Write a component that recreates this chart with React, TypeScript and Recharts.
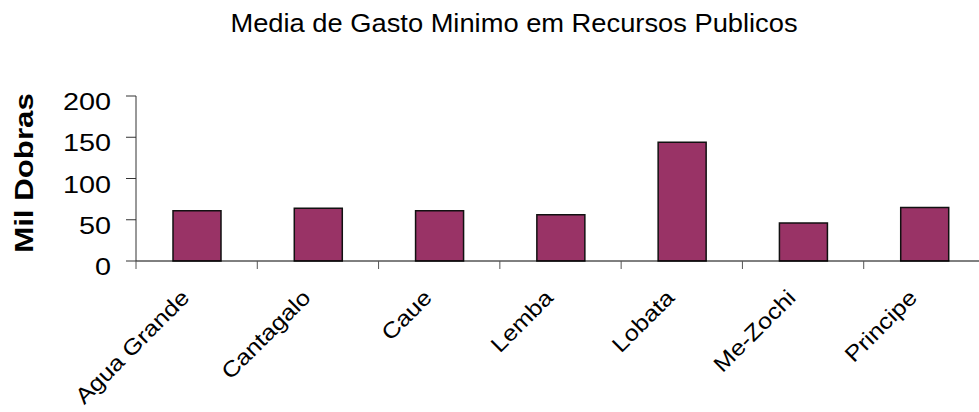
import { Bar, BarChart, XAxis, YAxis } from "recharts";

const districts = [
  "Agua Grande",
  "Cantagalo",
  "Caue",
  "Lemba",
  "Lobata",
  "Me-Zochi",
  "Principe",
];
const gastoMinimo = [61, 64, 61, 56, 144, 46, 65];
const yTicks = [0, 50, 100, 150, 200];
const xBounds = [0, 1, 2, 3, 4, 5, 6, 7];

const data = districts.map((name, i) => ({
  name,
  pos: i + 0.5,
  gasto: gastoMinimo[i],
}));

const FONT = "Arial, 'Liberation Sans', sans-serif";
const CHART_W = 990;
const PLOT_LEFT = 136;
const PLOT_RIGHT = 5;
const BAND = (CHART_W - PLOT_LEFT - PLOT_RIGHT) / districts.length;

const YTick = (props: any) => {
  const { x, y, payload } = props;
  return (
    <text
      transform={`translate(${x},${y + 14}) scale(1.2,1)`}
      textAnchor="end"
      fontSize={24}
      fontFamily={FONT}
      fill="#000"
    >
      {payload.value}
    </text>
  );
};

const XTick = (props: any) => {
  const { x, y, payload } = props;
  const label = districts[payload.value];
  if (!label) return <g />;
  const cx = x + BAND / 2 - 6;
  const cy = y + 28;
  return (
    <text
      transform={`translate(${cx},${cy}) rotate(-45) scale(1.15,1)`}
      textAnchor="end"
      fontSize={22}
      fontFamily={FONT}
      fill="#000"
    >
      {label}
    </text>
  );
};

const YTitle = () => (
  <text
    transform="translate(33,173) rotate(-90) scale(1.25,1)"
    textAnchor="middle"
    fontSize={25}
    fontWeight="bold"
    fontFamily={FONT}
    fill="#000"
  >
    Mil Dobras
  </text>
);

export default function App() {
  return (
    <div
      style={{
        position: "absolute",
        left: 0,
        top: 0,
        width: 979,
        height: 412,
        overflow: "hidden",
        background: "#fff",
      }}
    >
      <svg
        width={979}
        height={60}
        style={{ position: "absolute", left: 0, top: 0 }}
      >
        <text
          transform="translate(514,32) scale(1.05,1)"
          textAnchor="middle"
          fontSize={26}
          fontFamily={FONT}
          fill="#000"
        >
          Media de Gasto Minimo em Recursos Publicos
        </text>
      </svg>
      <BarChart
        width={CHART_W}
        height={412}
        data={data}
        margin={{ top: 96, right: PLOT_RIGHT, bottom: 0, left: 0 }}
        style={{ position: "absolute", left: 0, top: 0 }}
      >
        <XAxis
          dataKey="pos"
          type="number"
          domain={[0, 7]}
          ticks={xBounds}
          interval={0}
          height={151}
          tickSize={8}
          tick={<XTick />}
          axisLine={{ stroke: "#000", strokeWidth: 1 }}
          tickLine={{ stroke: "#555", strokeWidth: 1 }}
        />
        <YAxis
          type="number"
          domain={[0, 200]}
          ticks={yTicks}
          width={PLOT_LEFT}
          tickSize={10}
          tickMargin={15}
          tick={<YTick />}
          axisLine={{ stroke: "#333", strokeWidth: 1 }}
          tickLine={{ stroke: "#333", strokeWidth: 1 }}
          label={{ content: <YTitle /> }}
        />
        <Bar
          dataKey="gasto"
          barSize={48}
          fill="#993366"
          stroke="#111"
          strokeWidth={1.5}
          isAnimationActive={false}
        />
      </BarChart>
    </div>
  );
}
